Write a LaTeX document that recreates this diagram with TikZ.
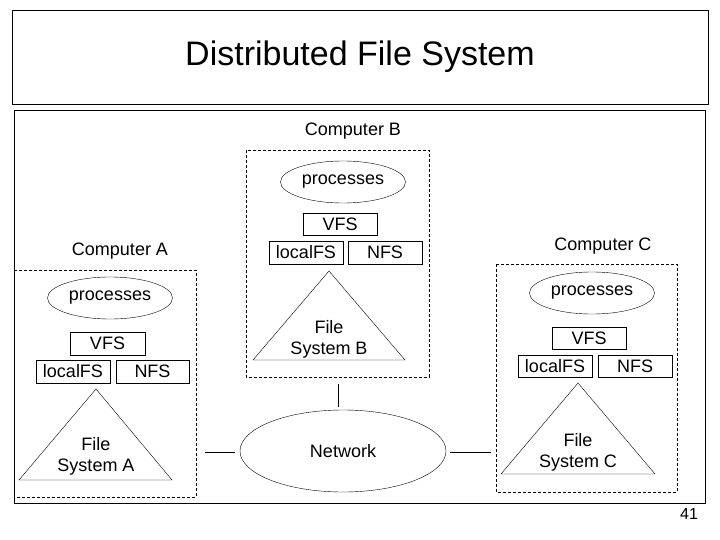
\documentclass[tikz,border=0pt]{standalone}
\usepackage{fontspec}
\setmainfont{Liberation Sans}
\usetikzlibrary{shapes.geometric}
\begin{document}
\begin{tikzpicture}[x=1pt,y=-1pt,
  box/.style={draw,thin,inner sep=0pt},
  dbox/.style={draw,thin,dash pattern=on 3pt off 2pt},
  ell/.style={draw,thin,ellipse,minimum width=125pt,minimum height=42pt,inner sep=0pt,font=\fontsize{18}{20}\selectfont},
  lbl/.style={font=\fontsize{18}{20}\selectfont},
  lab/.style={inner sep=0pt,font=\fontsize{18}{21}\selectfont,align=center}]
\useasboundingbox (0,0) rectangle (720,540);
\fill[white] (0,0) rectangle (720,540);
\node[box,minimum width=696pt,minimum height=94pt,font=\fontsize{34}{38}\selectfont] (title) at (360,57) {Distributed File System};
\node[box,minimum width=691pt,minimum height=393pt] (main) at (359.5,306.5) {};
\node[lbl] (cbl) at (353,131) {Computer B};
\node[lbl] (cal) at (120,251) {Computer A};
\node[lbl] (ccl) at (603,246) {Computer C};
\node[lbl,font=\fontsize{16}{18}\selectfont] (pg) at (689,514) {41};
% B
\draw[dbox] (246,150) rectangle (429,377);
\node[ell] (bp) at (343,182) {processes};
\draw (303,213) rectangle node[lbl] (bv) {VFS} (377,235);
\draw (269,241) rectangle node[lbl] (bl) {localFS} (343,264);
\draw (348,241) rectangle node[lbl] (bn) {NFS} (422,264);
\draw (329,271) -- (253,360) -- (405,360) -- cycle;
\node[lab] (bt) at (329,339) {File\\System B};
% A
\draw[dbox] (14,270) rectangle (196,497);
\node[ell] (ap) at (110,298) {processes};
\draw (70,332) rectangle node[lbl] (av) {VFS} (145,355);
\draw (36,360) rectangle node[lbl] (al) {localFS} (110,383);
\draw (116,360) rectangle node[lbl] (an) {NFS} (189,383);
\draw (96,389) -- (19,480) -- (172,480) -- cycle;
\node[lab] (at) at (96,456) {File\\System A};
% C
\draw[dbox] (496,264) rectangle (677,492);
\node[ell] (cp) at (592,293) {processes};
\draw (552,327) rectangle node[lbl] (cv) {VFS} (626,349);
\draw (518,355) rectangle node[lbl] (cl) {localFS} (592,377);
\draw (598,355) rectangle node[lbl] (cn) {NFS} (672,377);
\draw (578,383) -- (501,474) -- (655,474) -- cycle;
\node[lab] (ct) at (578,452) {File\\System C};
% network
\node[ell,minimum width=206pt,minimum height=82pt] (net) at (343,451) {Network};
\coordinate (b1) at (338,384); \coordinate (b2) at (338,407);
\coordinate (a1) at (205,452); \coordinate (a2) at (235,452);
\coordinate (c1) at (450,452); \coordinate (c2) at (491,452);
\draw (b1) -- (b2); \draw (a1) -- (a2); \draw (c1) -- (c2);
\end{tikzpicture}
\end{document}
